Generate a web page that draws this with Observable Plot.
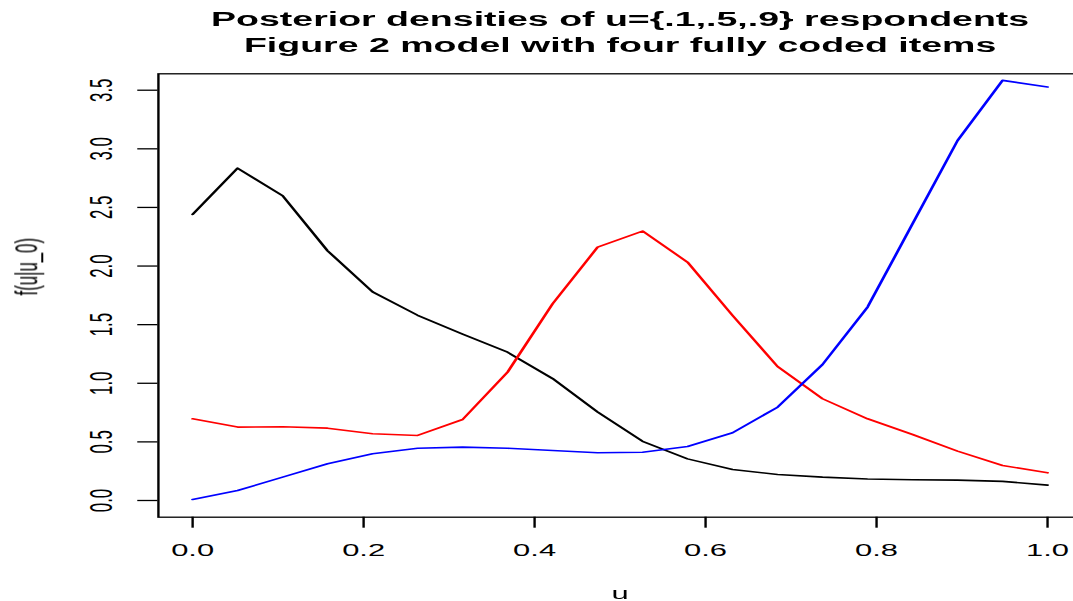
<!DOCTYPE html>
<html><head><meta charset="utf-8">
<script src="https://cdn.jsdelivr.net/npm/d3@7"></script>
<script src="https://cdn.jsdelivr.net/npm/@observablehq/plot@0.6"></script>
<style>
html,body{margin:0;padding:0;overflow:hidden;background:#fff;width:1073px;height:601px}
#wrap{width:590px;height:601px;transform:scaleX(1.84);transform-origin:0 0;}
</style></head><body><div id="wrap"></div>
<script>
const u     = [0, 0.0526, 0.1053, 0.1579, 0.2105, 0.2632, 0.3158, 0.3684, 0.4211, 0.4737, 0.5263, 0.5789, 0.6316, 0.6842, 0.7368, 0.7895, 0.8421, 0.8947, 0.9474, 1.0];
const black = [2.44, 2.835, 2.60, 2.13, 1.78, 1.58, 1.42, 1.265, 1.04, 0.755, 0.505, 0.355, 0.265, 0.222, 0.199, 0.183, 0.177, 0.174, 0.163, 0.131];
const red   = [0.697, 0.626, 0.629, 0.617, 0.569, 0.555, 0.691, 1.095, 1.678, 2.161, 2.298, 2.033, 1.578, 1.143, 0.868, 0.697, 0.563, 0.421, 0.299, 0.236];
const blue  = [0.009, 0.085, 0.199, 0.313, 0.398, 0.446, 0.455, 0.446, 0.427, 0.407, 0.412, 0.461, 0.578, 0.796, 1.16, 1.65, 2.36, 3.07, 3.584, 3.527];
const seriesNames = ["u=.1", "u=.5", "u=.9"];
const seriesColors = ["#000000", "#ff0000", "#0000ff"];
const xTicks = [0, 0.2, 0.4, 0.6, 0.8, 1.0];
const yTicks = [0, 0.5, 1.0, 1.5, 2.0, 2.5, 3.0, 3.5];
const titleLines = ["Posterior densities of u={.1,.5,.9} respondents", "Figure 2 model with four fully coded items"];
const xLabel = "u";
const yLabel = "f(u|u_0)";

const seriesValues = [black, red, blue];
const rows = [];
seriesValues.forEach((vals, k) => {
  u.forEach((x, i) => rows.push({u: x, f: vals[i], s: seriesNames[k]}));
});

const chart = Plot.plot({
  width: 590, height: 601,
  marginLeft: 85.6, marginRight: 2.6, marginTop: 73.3, marginBottom: 84.3,
  style: {fontFamily: "'Liberation Sans', Arial, Helvetica, sans-serif", fontSize: "16.5px", background: "white", color: "black", overflow: "visible"},
  x: {domain: [-0.04, 1.04]},
  y: {domain: [-0.1425, 3.64]},
  color: {domain: seriesNames, range: seriesColors},
  marks: [
    Plot.frame({stroke: "black", strokeWidth: 1.3}),
    Plot.axisX(xTicks, {tickSize: 11, tickPadding: 16, tickFormat: d3.format(".1f"), label: null, fontSize: 16.8, strokeWidth: 1.3}),
    Plot.axisY(yTicks, {tickSize: 11, tickPadding: 14, tickRotate: -90, tickFormat: d3.format(".1f"), label: null, fontSize: 16.8, strokeWidth: 1.3}),
    Plot.line(rows, {x: "u", y: "f", z: "s", stroke: "s", strokeWidth: 1.6}),
    Plot.text([titleLines.join("\n")], {frameAnchor: "top", lineAnchor: "top", dy: -66, lineHeight: 1.28, fontWeight: "bold", fontSize: 20.4}),
    Plot.text([xLabel], {frameAnchor: "bottom", lineAnchor: "middle", dy: 76, fontSize: 16.8}),
    Plot.text([yLabel], {frameAnchor: "left", lineAnchor: "middle", rotate: -90, dx: -71.5, fontSize: 16.8})
  ]
});
document.getElementById("wrap").appendChild(chart);
</script></body></html>
